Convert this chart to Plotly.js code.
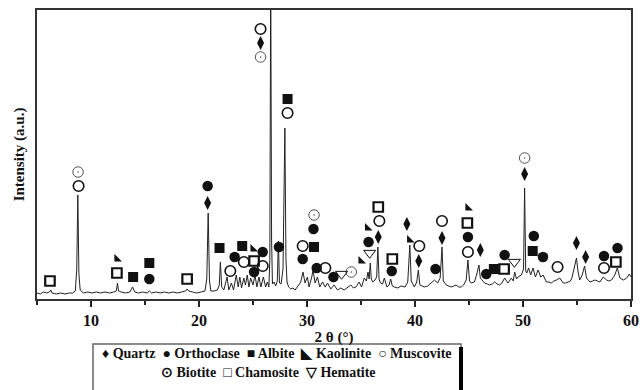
<!DOCTYPE html>
<html>
<head>
<meta charset="utf-8">
<script src="https://cdn.plot.ly/plotly-3.0.1.min.js"></script>
<style>html,body{margin:0;padding:0;background:#fff;}#chart{width:643px;height:390px;}</style>
</head>
<body>
<div id="chart"></div>
<script>
// XRD pattern: 2theta (deg) and intensity (a.u.)
const twoTheta = [5.0,5.3,5.6,5.9,6.15,6.27,6.4,6.8,7.2,7.6,8.0,8.3,8.55,8.68,8.78,8.88,9.0,9.3,9.7,10.1,10.5,10.9,11.3,11.7,12.1,12.35,12.45,12.55,12.8,13.2,13.6,13.85,14.05,14.4,14.8,15.2,15.4,15.6,16.0,16.4,16.8,17.2,17.6,18.0,18.4,18.75,18.9,19.05,19.4,19.8,20.2,20.55,20.72,20.85,20.97,21.1,21.4,21.7,21.88,21.98,22.1,22.3,22.6,22.76,23.0,23.2,23.45,23.63,23.78,23.94,24.15,24.3,24.47,24.62,24.78,25.0,25.18,25.36,25.55,25.73,25.96,26.17,26.33,26.47,26.56,26.64,26.72,26.8,26.95,27.1,27.25,27.35,27.45,27.6,27.78,27.95,28.05,28.15,28.3,28.5,28.7,28.9,29.1,29.42,29.63,29.82,30.04,30.19,30.44,30.56,30.75,30.97,31.18,31.44,31.68,31.9,32.2,32.5,32.83,33.13,33.44,33.76,34.06,34.3,34.53,34.83,35.05,35.3,35.5,35.65,35.75,35.86,35.95,36.08,36.3,36.45,36.56,36.67,36.8,37.0,37.16,37.4,37.6,37.75,37.9,38.08,38.4,38.7,39.08,39.33,39.52,39.65,39.8,39.94,40.16,40.31,40.45,40.6,40.87,41.18,41.49,41.8,42.1,42.33,42.5,42.62,42.89,43.1,43.35,43.6,43.81,44.05,44.28,44.5,44.74,44.9,45.05,45.2,45.5,45.7,45.92,46.05,46.2,46.44,46.7,46.9,47.15,47.37,47.6,47.83,48.05,48.3,48.6,48.92,49.1,49.23,49.4,49.54,49.85,50.05,50.15,50.25,50.35,50.52,50.71,50.93,51.15,51.4,51.64,51.86,52.17,52.4,52.63,52.85,53.1,53.4,53.72,53.95,54.18,54.4,54.55,54.8,54.95,55.1,55.25,55.48,55.7,55.88,56.2,56.45,56.66,56.9,57.12,57.43,57.74,57.95,58.2,58.5,58.73,58.98,59.3,59.6,59.85,60.0];
const intensity = [6,5,7,6,7,9,6,5,6,5,6,6,8,30,104,25,9,6,7,6,7,6,7,6,7,8,16,8,7,6,7,12,7,6,7,6,8,6,7,6,7,6,7,6,7,8,10,8,7,6,7,8,20,86,18,8,8,9,14,37,12,9,22,9,16,9,24,12,22,11,21,14,24,12,21,14,24,12,22,12,22,12,17,12,40,330,60,15,17,13,18,58,16,15,30,171,40,17,12,10,11,9,12,17,27,16,22,12,22,29,16,22,12,17,12,16,10,14,9,11,9,12,14,11,12,17,12,21,18,27,20,36,20,17,19,22,52,20,16,15,21,12,14,20,13,12,11,13,12,17,54,18,14,12,17,29,14,13,12,13,16,19,16,21,52,18,14,13,12,13,14,12,12,14,19,39,18,16,17,24,34,21,19,16,15,14,15,17,15,14,16,21,16,21,18,27,20,22,24,30,111,28,26,31,24,31,22,29,22,24,17,17,16,18,19,21,16,16,17,18,22,34,41,27,19,24,33,21,17,18,19,18,17,22,19,18,19,24,31,21,19,21,25,22];

// Phase markers (2theta, intensity position of marker)
const quartzX = [20.8, 25.7, 36.6, 39.25, 40.35, 42.5, 46.05, 50.15, 54.95, 55.8];
const quartzY = [96, 256, 62, 75, 38, 61, 49, 125, 56, 42];
const orthoclaseX = [15.4, 20.8, 23.3, 25.1, 25.9, 27.4, 29.6, 30.6, 30.9, 32.45, 35.7, 37.85, 41.9, 44.9, 46.6, 48.3, 51.0, 51.85, 57.5, 58.75];
const orthoclaseY = [20, 113, 42, 27, 47, 52, 40, 70, 31, 22, 57, 28, 30, 62, 25, 44, 63, 42, 43, 51];
const albiteX = [13.9, 15.4, 21.9, 24.0, 28.2, 30.65, 47.3, 50.9];
const albiteY = [22, 36, 51, 53, 200, 52, 30, 48];
const kaoliniteX = [12.4, 25.0, 35.0, 35.6, 39.5, 44.9];
const kaoliniteY = [40, 50, 38, 71, 59, 91];
const muscoviteX = [8.85, 22.9, 24.15, 25.7, 25.9, 28.2, 29.6, 31.7, 36.7, 40.4, 42.5, 44.9, 53.2, 57.5];
const muscoviteY = [113, 28, 37, 270, 33, 186, 53, 31, 78, 53, 78, 47, 32, 31];
const biotiteX = [8.8, 25.7, 30.65, 34.1, 50.15];
const biotiteY = [127, 242, 84, 27, 141];
const chamositeX = [6.2, 12.4, 18.9, 25.1, 36.6, 37.9, 44.85, 48.25, 58.6];
const chamositeY = [18, 26, 20, 38, 92, 40, 76, 30, 37];
const hematiteX = [33.2, 35.8, 49.2];
const hematiteY = [25, 46, 37];

const phaseNames = ['Quartz', 'Orthoclase', 'Albite', 'Kaolinite', 'Muscovite', 'Biotite', 'Chamosite', 'Hematite'];
const legendGlyphs = ['\u2666', '\u25CF', '\u25A0', '\u25E3', '\u25CB', '\u2299', '\u25A1', '\u25BD'];
const xTicks = [10, 20, 30, 40, 50, 60];

const FONT = 'Liberation Serif, Times New Roman, serif';
const ink = '#111';

const phaseData = [
  [quartzX, quartzY, {symbol: 'diamond-tall', size: 10, color: ink}],
  [orthoclaseX, orthoclaseY, {symbol: 'circle', size: 10.5, color: ink}],
  [albiteX, albiteY, {symbol: 'square', size: 10, color: ink}],
  [kaoliniteX, kaoliniteY, {symbol: 'triangle-sw', size: 8.5, color: ink}],
  [muscoviteX, muscoviteY, {symbol: 'circle-open', size: 10.5, color: ink, line: {color: ink, width: 1.6}}],
  [biotiteX, biotiteY, {symbol: 'circle-open-dot', size: 10.5, color: '#555', line: {color: '#555', width: 1}}],
  [chamositeX, chamositeY, {symbol: 'square-open', size: 9.5, color: ink, line: {color: ink, width: 2.2}}],
  [hematiteX, hematiteY, {symbol: 'triangle-down-open', size: 10.5, color: ink, line: {color: ink, width: 1}}]
];

const traces = [{
  type: 'scatter', mode: 'lines', x: twoTheta, y: intensity, name: 'XRD',
  line: {color: '#222', width: 1}, showlegend: false, hoverinfo: 'x+y'
}];
phaseData.forEach((p, i) => {
  traces.push({
    type: 'scatter', mode: 'markers', x: p[0], y: p[1], name: phaseNames[i],
    marker: p[2], showlegend: false, cliponaxis: false
  });
});

// plot area in pixels: x 37..631, y 10..299
const L = 37, R = 631, T = 10, B = 299;
const px = v => (v - L) / (R - L);
const py = v => (B - v) / (B - T);

const row1 = phaseNames.slice(0, 5).map((n, i) => legendGlyphs[i] + ' ' + n).join('  ');
const row2 = phaseNames.slice(5).map((n, i) => legendGlyphs[i + 5] + ' ' + n).join('  ');

const layout = {
  width: 643, height: 390,
  margin: {l: L, r: 643 - R, t: T, b: 390 - B},
  paper_bgcolor: '#fff', plot_bgcolor: '#fff',
  font: {family: FONT, color: ink},
  showlegend: false,
  xaxis: {
    range: [5, 60], tickvals: xTicks, ticktext: xTicks.map(String),
    ticks: 'outside', ticklen: 6, tickwidth: 1.5, tickcolor: '#222',
    minor: {dtick: 5, tick0: 0, ticks: 'outside', ticklen: 4, tickwidth: 1.5, tickcolor: '#222', showgrid: false},
    showline: true, linecolor: '#333', linewidth: 1.6, mirror: true,
    showgrid: false, zeroline: false,
    tickfont: {family: FONT, size: 16, weight: 'bold', color: ink},
    title: {text: '2 \u03B8 (\u00B0)', font: {family: FONT, size: 15, weight: 'bold', color: ink}, standoff: 3}
  },
  yaxis: {
    range: [0, 289], showticklabels: false, ticks: '',
    showline: true, linecolor: '#333', linewidth: 1.6, mirror: true,
    showgrid: false, zeroline: false,
    title: {text: 'Intensity (a.u.)', font: {family: FONT, size: 15, weight: 'bold', color: ink}, standoff: 7}
  },
  shapes: [
    {type: 'rect', xref: 'paper', yref: 'paper', x0: px(93), x1: px(461), y0: py(344), y1: py(400),
     line: {color: '#666', width: 1.5}, fillcolor: 'rgba(0,0,0,0)'},
    {type: 'line', xref: 'paper', yref: 'paper', x0: px(461), x1: px(461), y0: py(347), y1: py(400),
     line: {color: '#000', width: 4}}
  ],
  annotations: [
    {xref: 'paper', yref: 'paper', x: px(277), y: py(353), text: row1, showarrow: false,
     xanchor: 'center', yanchor: 'middle', font: {family: FONT, size: 14, weight: 'bold', color: ink}},
    {xref: 'paper', yref: 'paper', x: px(268), y: py(372), text: row2, showarrow: false,
     xanchor: 'center', yanchor: 'middle', font: {family: FONT, size: 14, weight: 'bold', color: ink}}
  ]
};

Plotly.newPlot('chart', traces, layout, {displayModeBar: false, staticPlot: true});
</script>
</body>
</html>
